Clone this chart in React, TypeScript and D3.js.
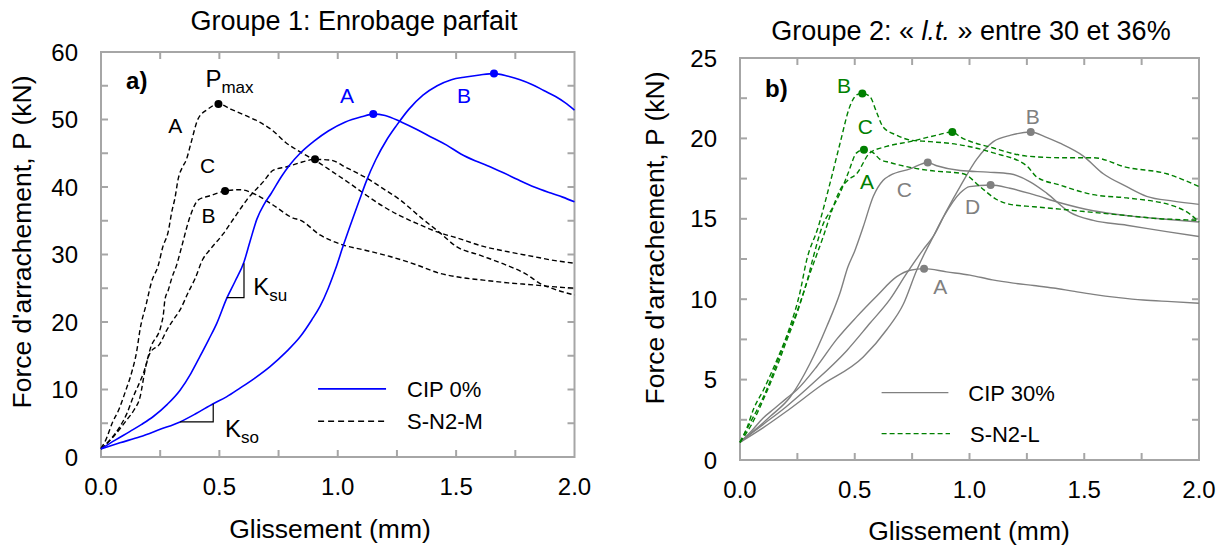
import React from 'react';
import * as d3 from 'd3';

type Pt = [number, number];

// ---- Groupe 1 : CIP 0% (bleu, trait plein)
const cip0A: Pt[] = [[0, 1.2], [0.06, 2.5], [0.123, 3.8], [0.17, 4.8], [0.221, 6.0], [0.28, 7.8], [0.334, 9.9], [0.38, 12.4], [0.418, 14.9], [0.455, 17.4], [0.489, 19.8], [0.531, 23.5], [0.566, 26.0], [0.604, 28.9], [0.63, 32.0], [0.658, 35.2], [0.69, 37.5], [0.718, 39.0], [0.763, 41.6], [0.798, 43.3], [0.841, 45], [0.9, 46.8], [0.96, 48.3], [1.03, 49.6], [1.1, 50.4], [1.15, 50.8], [1.2, 50.6], [1.27, 49.6], [1.33, 48.6], [1.4, 47.3], [1.46, 46.2], [1.52, 44.9], [1.58, 43.9], [1.63, 43.2], [1.7, 42.1], [1.76, 41.1], [1.83, 40.0], [1.9, 39.1], [1.95, 38.5], [2.0, 37.8]];
const cip0B: Pt[] = [[0, 1.2], [0.08, 2.1], [0.165, 3.0], [0.25, 4.1], [0.334, 5.2], [0.4, 6.4], [0.474, 7.9], [0.53, 8.9], [0.587, 10.2], [0.65, 11.7], [0.714, 13.4], [0.78, 15.5], [0.841, 17.8], [0.89, 20.3], [0.925, 22.3], [0.96, 25], [0.99, 27.8], [1.024, 31.4], [1.06, 35], [1.094, 38.3], [1.12, 40.8], [1.16, 44.0], [1.207, 47], [1.25, 49.2], [1.3, 51.5], [1.36, 53.6], [1.42, 55], [1.48, 55.9], [1.54, 56.3], [1.6, 56.6], [1.66, 56.8], [1.72, 56.4], [1.77, 55.9], [1.82, 55.2], [1.87, 54.3], [1.92, 53.4], [1.96, 52.5], [2.0, 51.4]];

// ---- Groupe 1 : S-N2-M (noir, tirets)
const sn2mA: Pt[] = [[0, 1.3], [0.02, 2.5], [0.047, 5.0], [0.075, 7.0], [0.103, 9.7], [0.131, 12.7], [0.15, 15.5], [0.166, 19.1], [0.19, 22.5], [0.214, 26], [0.242, 28.4], [0.26, 31], [0.284, 33.4], [0.3, 36.5], [0.312, 38.3], [0.326, 41.2], [0.345, 43], [0.36, 44], [0.38, 46.5], [0.41, 50.1], [0.45, 51.5], [0.496, 52.3], [0.55, 51.5], [0.61, 50.6], [0.67, 49.6], [0.72, 48.5], [0.78, 46.6], [0.841, 45.2], [0.925, 43.5], [0.98, 42.2], [1.052, 40.5], [1.12, 38.8], [1.193, 37.1], [1.26, 35.8], [1.334, 34.6], [1.432, 33.2], [1.5, 32.5], [1.615, 31.2], [1.72, 30.4], [1.826, 29.7], [1.9, 29.2], [2.0, 28.7]];
const sn2mB: Pt[] = [[0, 1.2], [0.052, 3.0], [0.109, 5.5], [0.14, 7], [0.165, 8.9], [0.186, 12.9], [0.207, 15.9], [0.256, 19.8], [0.263, 21], [0.27, 23.3], [0.284, 24.7], [0.299, 26.5], [0.32, 28.5], [0.341, 31.2], [0.376, 35.6], [0.411, 38.1], [0.46, 38.7], [0.524, 39.4], [0.587, 39.6], [0.658, 38.8], [0.728, 37.3], [0.812, 35.4], [0.841, 35.1], [0.925, 32.9], [1.024, 31.4], [1.12, 30.6], [1.221, 29.7], [1.33, 28.5], [1.432, 27.2], [1.52, 26.6], [1.615, 26.2], [1.72, 25.8], [1.826, 25.5], [1.92, 25.2], [2.0, 25.0]];
const sn2mC: Pt[] = [[0, 1.2], [0.04, 2.6], [0.08, 4.5], [0.11, 6.5], [0.136, 8.9], [0.16, 10.8], [0.179, 12.4], [0.207, 15.4], [0.249, 16.8], [0.278, 18.8], [0.305, 20.3], [0.334, 21.8], [0.37, 24.5], [0.397, 26.4], [0.43, 29.3], [0.46, 30.7], [0.517, 33.1], [0.566, 35.6], [0.616, 38.1], [0.686, 40.8], [0.728, 42.5], [0.785, 43.0], [0.85, 43.7], [0.904, 44.1], [0.967, 44.0], [1.04, 42.8], [1.123, 41.3], [1.19, 39.8], [1.263, 38.1], [1.35, 35.5], [1.432, 33.2], [1.5, 31.2], [1.6, 29.9], [1.7, 28.6], [1.8, 27], [1.855, 25.7], [1.92, 24.8], [2.0, 24.0]];

// ---- Groupe 2 : CIP 30% (gris, trait plein)
const cip30A: Pt[] = [[0, 1.1], [0.05, 1.8], [0.1, 2.6], [0.15, 3.2], [0.2, 3.8], [0.247, 4.35], [0.334, 5.8], [0.421, 7.5], [0.508, 8.9], [0.596, 10.2], [0.683, 11.4], [0.741, 11.8], [0.802, 11.9], [0.9, 11.7], [1.002, 11.5], [1.1, 11.2], [1.191, 11.0], [1.28, 10.85], [1.365, 10.7], [1.45, 10.5], [1.539, 10.3], [1.65, 10.1], [1.757, 9.95], [1.88, 9.85], [2.0, 9.75]];
const cip30B: Pt[] = [[0, 1.1], [0.1, 2.2], [0.2, 3.3], [0.32, 4.8], [0.465, 6.8], [0.566, 8.5], [0.654, 10.0], [0.726, 11.6], [0.799, 13.1], [0.842, 13.9], [0.9, 15.5], [0.959, 17.0], [1.031, 18.7], [1.104, 19.8], [1.18, 20.2], [1.267, 20.4], [1.33, 20.1], [1.394, 19.7], [1.496, 18.9], [1.583, 17.8], [1.685, 17.0], [1.772, 16.4], [1.888, 16.1], [2.0, 15.9]];
const cip30C: Pt[] = [[0, 1.1], [0.05, 1.7], [0.1, 2.3], [0.131, 2.7], [0.218, 3.9], [0.305, 6.0], [0.378, 8.3], [0.436, 10.4], [0.47, 12.0], [0.5, 13.0], [0.537, 14.5], [0.581, 16.4], [0.624, 17.4], [0.654, 17.7], [0.741, 18.1], [0.818, 18.5], [0.857, 18.3], [0.959, 18.0], [1.08, 17.9], [1.176, 17.8], [1.264, 17.3], [1.336, 16.6], [1.438, 15.4], [1.539, 14.9], [1.685, 14.6], [1.859, 14.2], [2.0, 13.9]];
const cip30D: Pt[] = [[0, 1.1], [0.1, 2.0], [0.2, 3.0], [0.35, 4.6], [0.537, 6.4], [0.639, 8.1], [0.712, 9.7], [0.77, 11.8], [0.813, 13.1], [0.828, 13.5], [0.886, 15.1], [0.959, 16.6], [1.0, 17.0], [1.092, 17.1], [1.176, 16.9], [1.28, 16.5], [1.394, 16.0], [1.539, 15.5], [1.685, 15.2], [1.83, 15.0], [2.0, 14.8]];

// ---- Groupe 2 : S-N2-L (vert, tirets)
const sn2lA: Pt[] = [[0, 1.1], [0.04, 2.2], [0.07, 3.0], [0.12, 4.5], [0.16, 6.0], [0.2, 7.5], [0.25, 9.3], [0.29, 11], [0.319, 12.6], [0.363, 14.7], [0.4, 15.6], [0.436, 16.6], [0.47, 17.8], [0.508, 19.1], [0.54, 19.3], [0.581, 19.1], [0.61, 18.7], [0.654, 18.5], [0.741, 18.2], [0.828, 18.0], [0.973, 17.8], [1.046, 17.0], [1.118, 16.2], [1.176, 15.9], [1.28, 15.75], [1.394, 15.6], [1.5, 15.45], [1.612, 15.3], [1.72, 15.15], [1.83, 15.0], [1.92, 14.95], [2.0, 14.9]];
const sn2lB: Pt[] = [[0, 1.1], [0.03, 2.0], [0.06, 3.2], [0.102, 4.35], [0.16, 6.2], [0.218, 8.3], [0.261, 10.4], [0.29, 12.4], [0.341, 14.5], [0.392, 17.2], [0.436, 19.7], [0.479, 22.0], [0.508, 22.7], [0.533, 22.8], [0.566, 22.6], [0.596, 21.6], [0.624, 20.7], [0.683, 20.2], [0.74, 19.9], [0.828, 19.8], [0.959, 19.6], [1.104, 19.1], [1.249, 18.3], [1.293, 17.6], [1.394, 17.1], [1.539, 16.5], [1.685, 16.3], [1.888, 15.8], [1.96, 15.3], [2.0, 14.8]];
const sn2lC: Pt[] = [[0, 1.1], [0.05, 2.2], [0.1, 3.7], [0.15, 5.4], [0.2, 7.3], [0.25, 9.2], [0.29, 11.0], [0.33, 12.6], [0.363, 13.9], [0.4, 15.5], [0.436, 16.8], [0.47, 17.4], [0.508, 17.8], [0.566, 19.1], [0.639, 19.5], [0.741, 19.8], [0.857, 20.2], [0.925, 20.4], [0.959, 20.1], [1.104, 19.4], [1.249, 18.9], [1.394, 18.8], [1.539, 18.8], [1.685, 18.2], [1.859, 17.8], [2.0, 17.0]];

// Pmax points
const pmaxGroupe1: Pt[] = [[1.15, 50.8], [1.66, 56.8], [0.496, 52.3], [0.524, 39.4], [0.904, 44.1]];
const pmaxCip30: Pt[] = [[0.802, 11.9], [1.267, 20.4], [0.818, 18.5], [1.092, 17.1]];
const pmaxSn2l: Pt[] = [[0.54, 19.3], [0.533, 22.8], [0.925, 20.4]];

const xTickLabels = [0, 0.5, 1, 1.5, 2];
const yTickLabels1 = [0, 10, 20, 30, 40, 50, 60];
const yTickLabels2 = [0, 5, 10, 15, 20, 25];

const FONT = "'Liberation Sans', Arial, Helvetica, sans-serif";
const BLUE = '#0000FF';
const GREEN = '#008000';
const GREY = '#808080';
const FRAME = '#A6A6A6';

type Curve = { data: Pt[]; color: string; dash?: string; width: number };
type Label = { text: string; at: Pt; color: string };

function Frame({ x, y, minorX, minorY, yLabels }: any) {
  const [x0, x1] = x.range();
  const [y0, y1] = y.range();
  const tl = 7;
  return (
    <g>
      {minorX.map((v: number) => (
        <g key={'mx' + v} stroke={FRAME} strokeWidth={2}>
          <line x1={x(v)} x2={x(v)} y1={y0} y2={y0 - tl} />
          <line x1={x(v)} x2={x(v)} y1={y1} y2={y1 + tl} />
        </g>
      ))}
      {minorY.map((v: number) => (
        <g key={'my' + v} stroke={FRAME} strokeWidth={2}>
          <line x1={x0} x2={x0 + tl} y1={y(v)} y2={y(v)} />
          <line x1={x1} x2={x1 - tl} y1={y(v)} y2={y(v)} />
        </g>
      ))}
      <rect x={x0} y={y1} width={x1 - x0} height={y0 - y1} fill="none" stroke={FRAME} strokeWidth={2} />
      {xTickLabels.map((v) => (
        <text key={'lx' + v} x={x(v)} y={y0 + 38} textAnchor="middle" fontSize={24}>
          {d3.format('.1f')(v)}
        </text>
      ))}
      {yLabels.map((v: number) => (
        <text key={'ly' + v} x={x0 - 23} y={y(v)} dy="0.36em" textAnchor="end" fontSize={24}>
          {v}
        </text>
      ))}
    </g>
  );
}

function Panel({ cfg }: any) {
  const x = d3.scaleLinear().domain([0, 2]).range([cfg.left, cfg.right]);
  const y = d3.scaleLinear().domain([0, cfg.yMax]).range([cfg.bottom, cfg.top]);
  const line = d3.line<Pt>().x((d) => x(d[0])).y((d) => y(d[1])).curve(d3.curveMonotoneX);
  const minorX = d3.range(0.25, 2, 0.25);
  const minorY = d3.range(cfg.yStep, cfg.yMax - 1e-6, cfg.yStep);
  return (
    <g>
      <Frame x={x} y={y} minorX={minorX} minorY={minorY} yLabels={cfg.yLabels} />
      {cfg.curves.map((c: Curve, i: number) => (
        <path key={i} d={line(c.data) || ''} fill="none" stroke={c.color} strokeWidth={c.width} strokeDasharray={c.dash} />
      ))}
      {cfg.dots.map((g: any, i: number) =>
        g.pts.map((p: Pt, j: number) => <circle key={i + '-' + j} cx={x(p[0])} cy={y(p[1])} r={4} fill={g.color} />)
      )}
      {cfg.labels.map((l: Label, i: number) => (
        <text key={i} x={x(l.at[0])} y={y(l.at[1])} fontSize={21} fill={l.color}>
          {l.text}
        </text>
      ))}
      <text x={x(cfg.tag.at[0])} y={y(cfg.tag.at[1])} fontSize={24} fontWeight="bold">
        {cfg.tag.text}
      </text>
      {cfg.legend.map((l: any, i: number) => (
        <g key={i}>
          <line x1={x(l.from)} x2={x(l.to)} y1={y(l.y)} y2={y(l.y)} stroke={l.color} strokeWidth={l.width} strokeDasharray={l.dash} />
          <text x={x(l.textX)} y={y(l.y)} dy="0.36em" fontSize={22}>
            {l.text}
          </text>
        </g>
      ))}
      {cfg.extra && cfg.extra(x, y)}
    </g>
  );
}

const slopeMark = (x: any, y: any, a: Pt, b: Pt) =>
  `M${x(a[0])},${y(a[1])}H${x(b[0])}V${y(b[1])}`;

const panel1 = {
  left: 101, right: 574.5, top: 52, bottom: 457, yMax: 60, yStep: 5, yLabels: yTickLabels1,
  curves: [
    { data: sn2mA, color: '#000', dash: '5,3', width: 1.4 },
    { data: sn2mB, color: '#000', dash: '5,3', width: 1.4 },
    { data: sn2mC, color: '#000', dash: '5,3', width: 1.4 },
    { data: cip0A, color: BLUE, width: 1.6 },
    { data: cip0B, color: BLUE, width: 1.6 },
  ],
  dots: [
    { pts: pmaxGroupe1.slice(0, 2), color: BLUE },
    { pts: pmaxGroupe1.slice(2), color: '#000' },
  ],
  labels: [
    { text: 'A', at: [0.284, 48.0], color: '#000' },
    { text: 'C', at: [0.418, 42.1], color: '#000' },
    { text: 'B', at: [0.425, 34.7], color: '#000' },
    { text: 'A', at: [1.01, 52.4], color: BLUE },
    { text: 'B', at: [1.504, 52.4], color: BLUE },
  ],
  tag: { text: 'a)', at: [0.106, 54.5] },
  legend: [
    { from: 0.917, to: 1.204, y: 10.1, textX: 1.293, text: 'CIP 0%', color: BLUE, width: 1.6 },
    { from: 0.917, to: 1.204, y: 5.3, textX: 1.293, text: 'S-N2-M', color: '#000', width: 1.4, dash: '6,4' },
  ],
  extra: (x: any, y: any) => (
    <g>
      <path d={slopeMark(x, y, [0.531, 23.6], [0.604, 28.7])} fill="none" stroke="#000" strokeWidth={1.2} />
      <path d={slopeMark(x, y, [0.334, 5.2], [0.474, 7.9])} fill="none" stroke="#000" strokeWidth={1.2} />
      <text x={x(0.643)} y={y(24.0)} fontSize={24}>
        K<tspan fontSize={17} dy={6}>su</tspan>
      </text>
      <text x={x(0.524)} y={y(3.0)} fontSize={24}>
        K<tspan fontSize={17} dy={6}>so</tspan>
      </text>
      <text x={x(0.441)} y={y(54.8)} fontSize={24}>
        P<tspan fontSize={17} dy={6}>max</tspan>
      </text>
    </g>
  ),
};

const panel2 = {
  left: 740, right: 1199, top: 58, bottom: 460, yMax: 25, yStep: 2.5, yLabels: yTickLabels2,
  curves: [
    { data: cip30A, color: GREY, width: 1.4 },
    { data: cip30B, color: GREY, width: 1.4 },
    { data: cip30C, color: GREY, width: 1.4 },
    { data: cip30D, color: GREY, width: 1.4 },
    { data: sn2lA, color: GREEN, dash: '5,3', width: 1.4 },
    { data: sn2lB, color: GREEN, dash: '5,3', width: 1.4 },
    { data: sn2lC, color: GREEN, dash: '5,3', width: 1.4 },
  ],
  dots: [
    { pts: pmaxCip30, color: GREY },
    { pts: pmaxSn2l, color: GREEN },
  ],
  labels: [
    { text: 'B', at: [0.423, 22.8], color: GREEN },
    { text: 'C', at: [0.513, 20.3], color: GREEN },
    { text: 'A', at: [0.523, 16.85], color: GREEN },
    { text: 'C', at: [0.683, 16.36], color: GREY },
    { text: 'D', at: [0.98, 15.3], color: GREY },
    { text: 'B', at: [1.245, 20.9], color: GREY },
    { text: 'A', at: [0.842, 10.3], color: GREY },
  ],
  tag: { text: 'b)', at: [0.109, 22.57] },
  legend: [
    { from: 0.617, to: 0.908, y: 4.19, textX: 0.995, text: 'CIP 30%', color: GREY, width: 1.4 },
    { from: 0.617, to: 0.915, y: 1.64, textX: 1.002, text: 'S-N2-L', color: GREEN, width: 1.4, dash: '5,3' },
  ],
};

export default function App() {
  return (
    <svg
      width={1226}
      height={548}
      style={{ position: 'absolute', left: 0, top: 0, background: '#fff' }}
      fontFamily={FONT}
    >
      <rect width={1226} height={548} fill="#fff" />
      <text x={354} y={30} textAnchor="middle" fontSize={27}>Groupe 1: Enrobage parfait</text>
      <text x={971} y={40} textAnchor="middle" fontSize={27}>
        Groupe 2: « <tspan fontStyle="italic">l.t.</tspan> » entre 30 et 36%
      </text>
      <Panel cfg={panel1} />
      <Panel cfg={panel2} />
      <text x={330} y={538} textAnchor="middle" fontSize={26.5}>Glissement (mm)</text>
      <text x={969} y={540} textAnchor="middle" fontSize={26.5}>Glissement (mm)</text>
      <text transform="translate(31,242) rotate(-90)" textAnchor="middle" fontSize={26.5}>
        Force d'arrachement, P (kN)
      </text>
      <text transform="translate(664,238) rotate(-90)" textAnchor="middle" fontSize={26.5}>
        Force d'arrachement, P (kN)
      </text>
    </svg>
  );
}
